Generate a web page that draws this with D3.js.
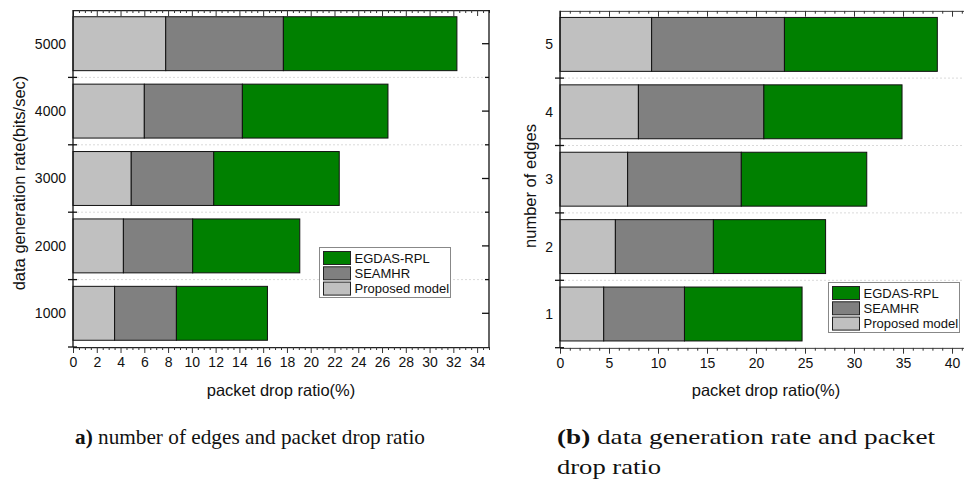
<!DOCTYPE html>
<html><head><meta charset="utf-8">
<script src="https://cdn.jsdelivr.net/npm/d3@7/dist/d3.min.js"></script>
<style>
body{margin:0;background:#fff}svg{display:block}
.sans{font-family:"Liberation Sans","Arimo",Arial,sans-serif}
.serif{font-family:"Liberation Serif","Tinos","Times New Roman",serif}
</style>
</head><body>
<svg id="chart" width="964" height="483"></svg>
<script>
// ---- Data ----
const seriesNames = ["Proposed model", "SEAMHR", "EGDAS-RPL"];
const legendOrder = ["EGDAS-RPL", "SEAMHR", "Proposed model"];
const colors = {"Proposed model": "#c0c0c0", "SEAMHR": "#808080", "EGDAS-RPL": "#008000"};

// Panel a: data generation rate
const rateCategories = ["1000", "2000", "3000", "4000", "5000"];
const rateProposed = [3.5, 4.24, 4.9, 6.0, 7.8];
const rateSEAMHR   = [5.2, 5.83, 6.94, 8.25, 9.9];
const rateEGDAS    = [7.66, 9.01, 10.56, 12.25, 14.6];
const rateTicks = [0,2,4,6,8,10,12,14,16,18,20,22,24,26,28,30,32,34];

// Panel b: number of edges
const edgeCategories = ["1", "2", "3", "4", "5"];
const edgeProposed = [4.46, 5.65, 6.9, 8.0, 9.35];
const edgeSEAMHR   = [8.24, 10.0, 11.6, 12.8, 13.55];
const edgeEGDAS    = [12.0, 11.45, 12.8, 14.1, 15.6];
const edgeTicks = [0,5,10,15,20,25,30,35,40];

const captionA = ["a)", " number of edges and packet drop ratio"];
const captionB1 = ["(b)", " data generation rate and packet"];
const captionB2 = "drop ratio";

const svg = d3.select("#chart");

function panel(cfg) {
  const g = svg.append("g").attr("class", "sans");
  const x = d3.scaleLinear().domain(cfg.domain).range([cfg.x0, cfg.x1]);
  const y = d3.scaleBand().domain(cfg.categories.slice().reverse()).range([cfg.yTop, cfg.yBot]).paddingInner(0.2).paddingOuter(0.1);
  const clipId = "clip" + cfg.id;
  svg.append("clipPath").attr("id", clipId).append("rect").attr("x", 0).attr("y", 0).attr("width", 964).attr("height", 483);

  const rows = cfg.categories.map((c, i) => ({cat: c, "Proposed model": cfg.proposed[i], "SEAMHR": cfg.seamhr[i], "EGDAS-RPL": cfg.egdas[i]}));
  const stack = d3.stack().keys(seriesNames)(rows);

  const step = y.step();
  const boundsY = cfg.categories.slice(1).map(c => y(c) + y.bandwidth() + y.paddingInner() * step / 2);
  g.selectAll(".sep").data(boundsY).join("line")
    .attr("x1", cfg.x0).attr("x2", cfg.x1).attr("y1", d => d).attr("y2", d => d)
    .attr("stroke", "#dadada").attr("stroke-width", 1).attr("stroke-dasharray", "2,2");

  // bars
  g.selectAll(".layer").data(stack).join("g")
    .attr("fill", d => colors[d.key])
    .selectAll("rect").data(d => d).join("rect")
    .attr("x", d => x(d[0])).attr("width", d => x(d[1]) - x(d[0]))
    .attr("y", d => y(d.data.cat)).attr("height", y.bandwidth())
    .attr("stroke", "#111").attr("stroke-width", 1);

  const major = cfg.ticks;
  const minor = d3.range(cfg.domain[0], cfg.domain[1] + 1e-9, cfg.minorStep).filter(v => !major.some(m => Math.abs(m - v) < 1e-9));
  const topG = g.append("g").attr("transform", `translate(0,${cfg.yTop})`).attr("clip-path", `url(#${clipId})`);
  topG.call(d3.axisBottom(x).tickValues(major).tickSize(6).tickFormat("").tickSizeOuter(0));
  topG.append("g").call(d3.axisBottom(x).tickValues(minor).tickSize(3).tickFormat("").tickSizeOuter(0)).select(".domain").remove();
  const botG = g.append("g").attr("transform", `translate(0,${cfg.yBot})`).attr("clip-path", `url(#${clipId})`);
  botG.call(d3.axisBottom(x).tickValues(major).tickSize(6).tickPadding(4).tickSizeOuter(0));
  botG.append("g").call(d3.axisBottom(x).tickValues(minor).tickSize(3).tickFormat("").tickSizeOuter(0)).select(".domain").remove();
  [topG, botG].forEach(a => {
    a.attr("font-family", null);
    a.selectAll("path.domain").attr("stroke", "#222").attr("stroke-width", 1.3);
    a.selectAll(".tick line").attr("stroke", "#333");
    a.selectAll("text").attr("font-size", 14).attr("fill", "#111");
  });

  // left axis
  g.append("line").attr("x1", cfg.x0).attr("x2", cfg.x0).attr("y1", cfg.yTop).attr("y2", cfg.yBot).attr("stroke", "#111").attr("stroke-width", 1.3);
  g.selectAll(".lt").data(boundsY.concat([cfg.yBot])).join("line")
    .attr("x1", cfg.x0 - 5).attr("x2", cfg.x0 + 4).attr("y1", d => d).attr("y2", d => d).attr("stroke", "#111").attr("stroke-width", 1.3);
  g.selectAll(".cl").data(cfg.categories).join("text")
    .attr("x", cfg.x0 - 7).attr("y", d => y(d) + y.bandwidth() / 2).attr("dy", "0.35em")
    .attr("text-anchor", "end").attr("font-size", 14).attr("fill", "#111").text(d => d);

  if (cfg.rightAxis) {
    g.append("line").attr("x1", cfg.x1).attr("x2", cfg.x1).attr("y1", cfg.yTop).attr("y2", cfg.yBot).attr("stroke", "#111").attr("stroke-width", 1.3);
    g.selectAll(".rt").data(cfg.categories).join("line")
      .attr("x1", cfg.x1 - 7).attr("x2", cfg.x1).attr("y1", d => y(d) + y.bandwidth() / 2).attr("y2", d => y(d) + y.bandwidth() / 2).attr("stroke", "#111").attr("stroke-width", 1.3);
    g.selectAll(".rb").data(boundsY).join("line")
      .attr("x1", cfg.x1 - 4).attr("x2", cfg.x1).attr("y1", d => d).attr("y2", d => d).attr("stroke", "#111").attr("stroke-width", 1.3);
  }

  // axis titles
  g.append("text").attr("x", cfg.xTitleX).attr("y", 396).attr("text-anchor", "middle")
    .attr("font-size", 16.5).attr("fill", "#111").text("packet drop ratio(%)");
  g.append("text").attr("transform", `translate(${cfg.yTitleX},${cfg.yTitleY}) rotate(-90)`).attr("text-anchor", "middle")
    .attr("font-size", 16.5).attr("fill", "#111").text(cfg.yTitle);

  // legend
  const lg = g.append("g").attr("transform", `translate(${cfg.legX},${cfg.legY})`);
  lg.append("rect").attr("width", 131).attr("height", 50).attr("fill", "#fff").attr("stroke", "#888").attr("stroke-width", 1);
  legendOrder.forEach((k, i) => {
    lg.append("rect").attr("x", 4).attr("y", 4 + i * 15.3).attr("width", 27).attr("height", 13)
      .attr("fill", colors[k]).attr("stroke", "#222").attr("stroke-width", 1);
    lg.append("text").attr("x", 35).attr("y", 10.5 + i * 15.3).attr("dy", "0.35em")
      .attr("font-size", 13).attr("fill", "#111").text(k);
  });
}

panel({id: "a", categories: rateCategories, proposed: rateProposed, seamhr: rateSEAMHR, egdas: rateEGDAS,
  domain: [0, 35], ticks: rateTicks, minorStep: 0.5, x0: 73, x1: 489, yTop: 10, yBot: 347,
  rightAxis: true, xTitleX: 281, yTitle: "data generation rate(bits/sec)", yTitleX: 25, yTitleY: 183,
  legX: 319.5, legY: 247.5});
panel({id: "b", categories: edgeCategories, proposed: edgeProposed, seamhr: edgeSEAMHR, egdas: edgeEGDAS,
  domain: [0, 41.6], ticks: edgeTicks, minorStep: 1, x0: 560, x1: 967.7, yTop: 10.7, yBot: 347.7,
  rightAxis: false, xTitleX: 766, yTitle: "number of edges", yTitleX: 536, yTitleY: 186,
  legX: 828.5, legY: 282.5});

// captions
function caption(x, y, parts, width) {
  const t = svg.append("text").attr("class", "serif").attr("x", x).attr("y", y).attr("font-size", 21).attr("fill", "#111");
  if (Array.isArray(parts)) {
    t.append("tspan").attr("font-weight", "bold").text(parts[0]);
    t.append("tspan").text(parts[1]);
  } else t.text(parts);
  if (width) t.attr("textLength", width).attr("lengthAdjust", "spacingAndGlyphs");
}
caption(75, 444, captionA, 350);
caption(557, 444, captionB1, 378);
caption(557, 474, captionB2, 104);
</script>
</body></html>
